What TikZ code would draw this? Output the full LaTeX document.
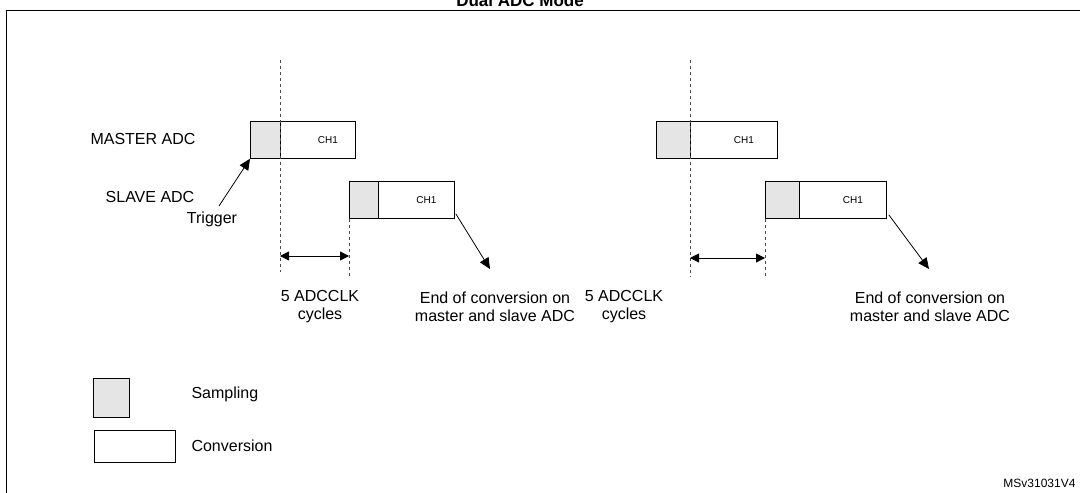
\documentclass[tikz,border=0pt]{standalone}
\usepackage{fontspec}
\setmainfont{Liberation Sans}
\usetikzlibrary{positioning}
\usetikzlibrary{arrows.meta}

\tikzset{
	samp/.style={draw, thick, fill=gray!20, minimum width=30pt, minimum height=37pt, inner sep=0pt, anchor=north west},
	conv/.style={draw, thick, fill=white, minimum height=37pt, inner sep=0pt, anchor=north west},
	lbl/.style={font=\fontsize{16}{18}\selectfont, align=center},
	tmark/.style={dashed, gray!60!black},
	arr/.style={-{Triangle[length=11pt,width=10pt]}, thick},
}

\begin{document}
\begin{tikzpicture}[x=1pt, y=-1pt]
	\useasboundingbox (0,0) rectangle (1080,493);
	% Frame and title
	\draw[thick] (6,500) -- (6,10) -- (1085,10);
	\node[lbl, font=\fontsize{17}{18}\bfseries] (title) at (520,0) {Dual ADC Mode};
	% First sequence
	\node[conv, minimum width=75pt] (1mconv) at (280,121) {\hspace*{20pt}CH1};
	\node[samp] (1msamp) at (250,121) {};
	\node[conv, minimum width=76pt] (1sconv) at (378,181) {\hspace*{20pt}CH1};
	\node[samp, minimum width=29pt] (1ssamp) at (349,181) {};
	% Second sequence
	\node[conv, minimum width=87pt] (2mconv) at (690,121) {\hspace*{20pt}CH1};
	\node[samp, minimum width=34pt] (2msamp) at (656,121) {};
	\node[conv, minimum width=87pt] (2sconv) at (799,181) {\hspace*{20pt}CH1};
	\node[samp, minimum width=34pt] (2ssamp) at (765,181) {};
	% Row labels
	\node[lbl] (master) at (143,139) {MASTER ADC};
	\node[lbl] (slave) at (150,197) {SLAVE ADC};
	\node[lbl] (trigger) at (212,219) {Trigger};
	% Dashed marks
	\coordinate (1mtop) at (280,60);
	\coordinate (1mbot) at (280,272);
	\coordinate (1sbot) at (349,276);
	\coordinate (2mtop) at (690,60);
	\coordinate (2mbot) at (690,277);
	\coordinate (2sbot) at (765,277);
	\draw[tmark] (1mtop) -- (1mbot);
	\draw[tmark] (1ssamp.south west) -- (1sbot);
	\draw[tmark] (2mtop) -- (2mbot);
	\draw[tmark] (2ssamp.south west) -- (2sbot);
	% Delay arrows
	\coordinate (1dl) at (280,256);
	\coordinate (1dr) at (349,256);
	\coordinate (2dl) at (690,258);
	\coordinate (2dr) at (765,258);
	\draw[{Triangle[length=9pt,width=9pt]}-{Triangle[length=9pt,width=9pt]}, thick] (1dl) -- (1dr);
	\draw[{Triangle[length=9pt,width=9pt]}-{Triangle[length=9pt,width=9pt]}, thick] (2dl) -- (2dr);
	% Trigger and end arrows
	\coordinate (trigfoot) at (219,206);
	\draw[arr] (trigfoot) -- (1msamp.south west);
	\coordinate (1end) at (490,269);
	\coordinate (2end) at (929,269);
	\draw[arr] ([xshift=1pt,yshift=5pt]1sconv.south east) -- (1end);
	\draw[arr] ([xshift=2pt,yshift=4pt]2sconv.south east) -- (2end);
	% Bottom labels
	\node[lbl] (1cyc) at (320,307) {5 ADCCLK\\cycles};
	\node[lbl] (1eoc) at (495,307) {End of conversion on\\master and slave ADC};
	\node[lbl] (2cyc) at (624,307) {5 ADCCLK\\cycles};
	\node[lbl] (2eoc) at (930,307) {End of conversion on\\master and slave ADC};
	% Legend
	\node[samp, minimum width=36pt, minimum height=39pt] (legsamp) at (93,378) {};
	\node[conv, minimum width=81pt, minimum height=32pt] (legconv) at (94,430) {};
	\node[lbl, anchor=west] (legsamptxt) at (188,394) {Sampling};
	\node[lbl, anchor=west] (legconvtxt) at (188,446) {Conversion};
	\node[font=\fontsize{12}{14}\selectfont, anchor=east] (docid) at (1079,483) {MSv31031V4};
\end{tikzpicture}
\end{document}
